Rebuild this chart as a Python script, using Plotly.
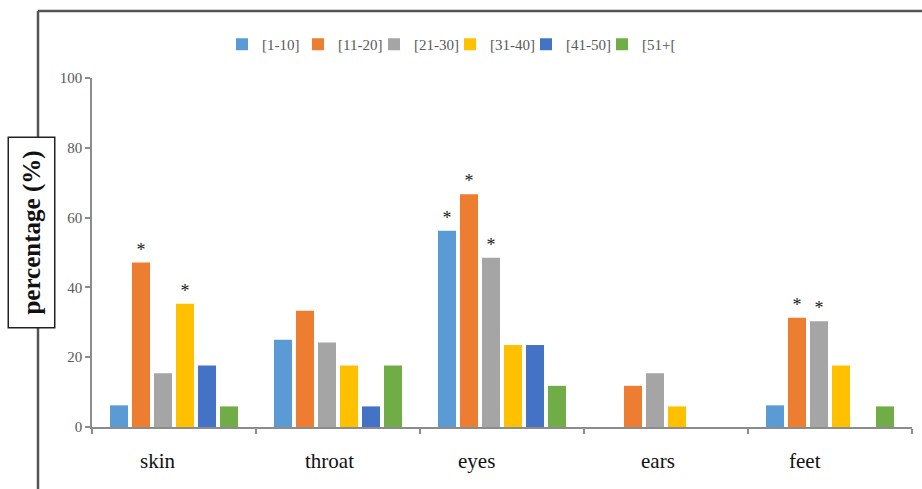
import plotly.graph_objects as go

# Body sites and age groups
sites = ["skin", "throat", "eyes", "ears", "feet"]
age_groups = ["[1-10]", "[11-20]", "[21-30]", "[31-40]", "[41-50]", "[51+["]
colors = ["#5B9BD5", "#ED7D31", "#A5A5A5", "#FFC000", "#4472C4", "#70AD47"]

# Percentage per age group, one value per site (skin, throat, eyes, ears, feet)
pct_1_10 = [6.2, 25.0, 56.2, 0, 6.2]
pct_11_20 = [47.1, 33.3, 66.7, 11.8, 31.3]
pct_21_30 = [15.4, 24.2, 48.5, 15.4, 30.3]
pct_31_40 = [35.3, 17.6, 23.5, 5.9, 17.6]
pct_41_50 = [17.6, 5.9, 23.5, 0, 0]
pct_51_plus = [5.9, 17.6, 11.8, 0, 5.9]

# Significance markers per age group and site
sig_1_10 = ["", "", "*", "", ""]
sig_11_20 = ["*", "", "*", "", "*"]
sig_21_30 = ["", "", "*", "", "*"]
sig_31_40 = ["*", "", "", "", ""]
sig_41_50 = ["", "", "", "", ""]
sig_51_plus = ["", "", "", "", ""]

series = [pct_1_10, pct_11_20, pct_21_30, pct_31_40, pct_41_50, pct_51_plus]
marks = [sig_1_10, sig_11_20, sig_21_30, sig_31_40, sig_41_50, sig_51_plus]

SERIF = "Liberation Serif, Times New Roman, serif"

W, H = 922, 489
L, R, T, B = 92, 10, 78, 62
pw, ph = W - L - R, H - T - B


def px_x(x):
    return (x - L) / pw


def px_y(y):
    return (H - B - y) / ph


fig = go.Figure()
for name, vals, sig, col in zip(age_groups, series, marks, colors):
    fig.add_trace(go.Bar(
        x=sites, y=vals, name=name,
        marker=dict(color=col, line=dict(width=0)),
        text=sig, textposition="outside",
        textfont=dict(family=SERIF, size=18, color="#1A1A1A"),
        cliponaxis=False,
    ))

fig.update_layout(
    width=W, height=H,
    margin=dict(l=L, r=R, t=T, b=B),
    paper_bgcolor="white", plot_bgcolor="white",
    barmode="group", bargap=0.195, bargroupgap=0.18,
    showlegend=True,
    legend=dict(
        orientation="h", x=px_x(222), y=px_y(28), xanchor="left", yanchor="top",
        font=dict(family=SERIF, size=15, color="#595959"),
        itemwidth=30, entrywidth=31, entrywidthmode="pixels",
    ),
    font=dict(family=SERIF),
)

fig.update_xaxes(
    showline=True, linecolor="#8C8C8C", linewidth=1.5,
    ticks="outside", ticklen=5, tickcolor="#8C8C8C", tickwidth=1.5,
    tickson="boundaries", showticklabels=False,
    showgrid=False, zeroline=False,
)
fig.update_yaxes(
    range=[0, 100], dtick=20,
    showline=True, linecolor="#8C8C8C", linewidth=1.5,
    ticks="outside", ticklen=5, tickcolor="#8C8C8C", tickwidth=1.5,
    tickfont=dict(family=SERIF, size=15, color="#595959"),
    showgrid=False, zeroline=False,
)

# Category labels under the axis, each nudged left a little
label_nudge = [-16, -9, -26, -8, -25]
for site, dx in zip(sites, label_nudge):
    fig.add_annotation(
        x=site, xref="x", y=px_y(461), yref="paper", xshift=dx,
        text=site, showarrow=False, xanchor="center", yanchor="middle",
        font=dict(family=SERIF, size=21, color="#111111"),
    )

# Outer frame (top and left edges)
frame = dict(color="#555555", width=2.5)
fig.add_shape(type="line", xref="paper", yref="paper",
              x0=px_x(38), x1=px_x(930), y0=px_y(11), y1=px_y(11), line=frame)
fig.add_shape(type="line", xref="paper", yref="paper",
              x0=px_x(38), x1=px_x(38), y0=px_y(11), y1=px_y(495), line=frame)

# Boxed y-axis title
fig.add_annotation(
    text="<b>percentage (%)</b>", textangle=-90,
    xref="paper", yref="paper", x=px_x(31.5), y=px_y(233),
    xanchor="center", yanchor="middle", showarrow=False,
    font=dict(family=SERIF, size=25, color="#111111"),
    bgcolor="white", bordercolor="#222222", borderwidth=1.5, borderpad=2,
    width=185, height=41,
)

fig.write_html("out.html")
